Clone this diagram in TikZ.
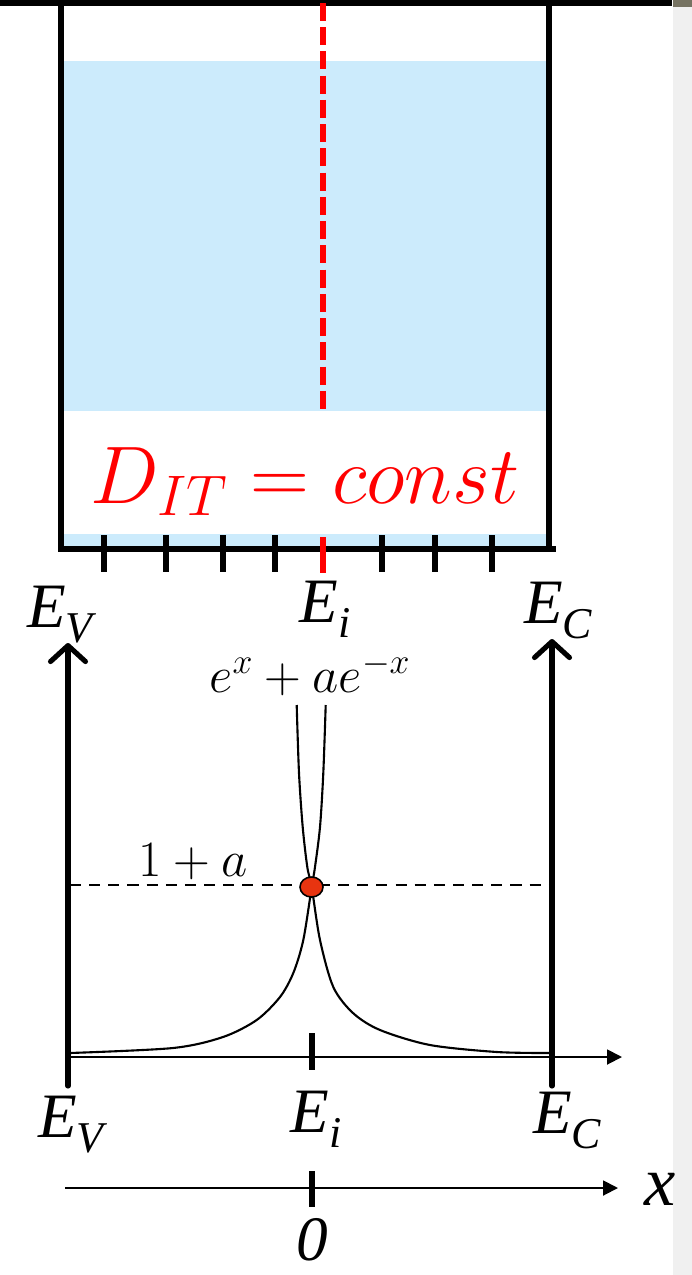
\RequirePackage{fix-cm}
\documentclass[tikz,border=0pt]{standalone}
\usepackage{amsmath}
\usepackage{fontspec}
\setmainfont{Liberation Serif}
\usepackage{tikz}
\usetikzlibrary{arrows.meta,shapes.geometric}
\usepackage{xcolor}
\definecolor{wellblue}{RGB}{204,235,252}
\definecolor{dotred}{RGB}{232,52,16}
\definecolor{sidegrey}{RGB}{240,240,240}
\newcommand{\Elab}[1]{E\raisebox{-0.24em}{\fontsize{25}{25}\selectfont #1}}

\begin{document}
\begin{tikzpicture}[
  x=0.02cm, y=-0.02cm,
  wall/.style={line width=3pt},
  tickmark/.style={line width=3pt},
  uparrow/.style={line width=2.9pt,line cap=round,-{Straight Barb[length=3.2mm,width=7mm,round]}},
  axis/.style={line width=1.1pt,-{Triangle[length=3mm,width=3mm]}},
  curve/.style={line width=1.2pt},
  level/.style={inner sep=0pt,anchor=base,font=\fontsize{36}{36}\selectfont\itshape},
  formula/.style={inner sep=0pt,anchor=base,font=\fontsize{29}{29}\selectfont},
  dot/.style={draw,ellipse,fill=dotred,line width=0.9pt,minimum width=0.46cm,minimum height=0.4cm,inner sep=0pt}
]
\useasboundingbox (0,0) rectangle (692,1275);

% screen frame
\fill[sidegrey] (673,0) rectangle (692,1275);
\fill[black!60!olive!40!gray] (673,0) rectangle (692,7);
\fill[black] (0,0) rectangle (672,6);

% well
\fill[wellblue] (63,61) rectangle (547,548);
\draw[red,line width=3.4pt,dash pattern=on 10.2pt off 3.6pt] (323,3) -- (323,420);
\fill[white] (61,411) rectangle (549,534);
\draw[wall] (61,0) -- (61,552);
\draw[wall] (549,0) -- (549,552);
\draw[wall] (59,549) -- (556,549);
\foreach \tx in {104,166,223,275,382,435,492}
  \draw[tickmark] (\tx,535) -- (\tx,572);
\draw[tickmark,red] (323,537) -- (323,573);

\node[formula,red,font=\fontsize{46.5}{46.5}\selectfont] (dit) at (305,503) {$D_{IT}=const$};

\node[level] (evtop) at (60,627) {\Elab{V}};
\node[level] (eitop) at (325,622) {\Elab{i}};
\node[level] (ectop) at (558,623) {\Elab{C}};

% band plot
\coordinate (evlow) at (68,1086);
\coordinate (evtip) at (68,643);
\coordinate (eclow) at (552,1086);
\coordinate (ectip) at (552,639);
\coordinate (estart) at (68,1057);
\coordinate (eend) at (622,1057);
\draw[uparrow] (evlow) -- (evtip);
\draw[uparrow] (eclow) -- (ectip);
\draw[axis] (estart) -- (eend);
\draw[tickmark] (312,1033) -- (312,1070);

\draw[dashed,line width=0.9pt,dash pattern=on 6.3pt off 4.6pt] (70,885) -- (549,885);

\draw[curve] plot[smooth] coordinates {(70,1053) (173,1048) (223,1037) (256.7,1020) (280,997)
  (293.3,973) (303.3,940) (311.7,887) (315,867) (320,827) (323.3,773) (325.7,705)};
\draw[curve] plot[smooth] coordinates {(296.7,705) (299,773) (302.7,827) (307.3,867) (311.7,887)
  (320,940) (333.3,987) (353,1013) (380,1030) (430,1045) (497,1052) (550,1053)};

\node[dot] (cross) at (311.5,887) {};

\node[formula] (sum) at (310,692) {$e^x+ae^{-x}$};
\node[formula] (onea) at (193,876) {$1+a$};

\node[level] (evbot) at (71,1137) {\Elab{V}};
\node[level] (eibot) at (316,1132) {\Elab{i}};
\node[level] (ecbot) at (567,1133) {\Elab{C}};

% coordinate axis
\coordinate (xstart) at (65,1188);
\coordinate (xend) at (618,1188);
\draw[axis] (xstart) -- (xend);
\draw[tickmark] (312,1171) -- (312,1207);
\node[level,font=\fontsize{40}{40}\selectfont\itshape] (xlab) at (660,1205) {x};
\node[level,text depth=0pt] (zero) at (312,1260) {0};
\end{tikzpicture}
\end{document}
